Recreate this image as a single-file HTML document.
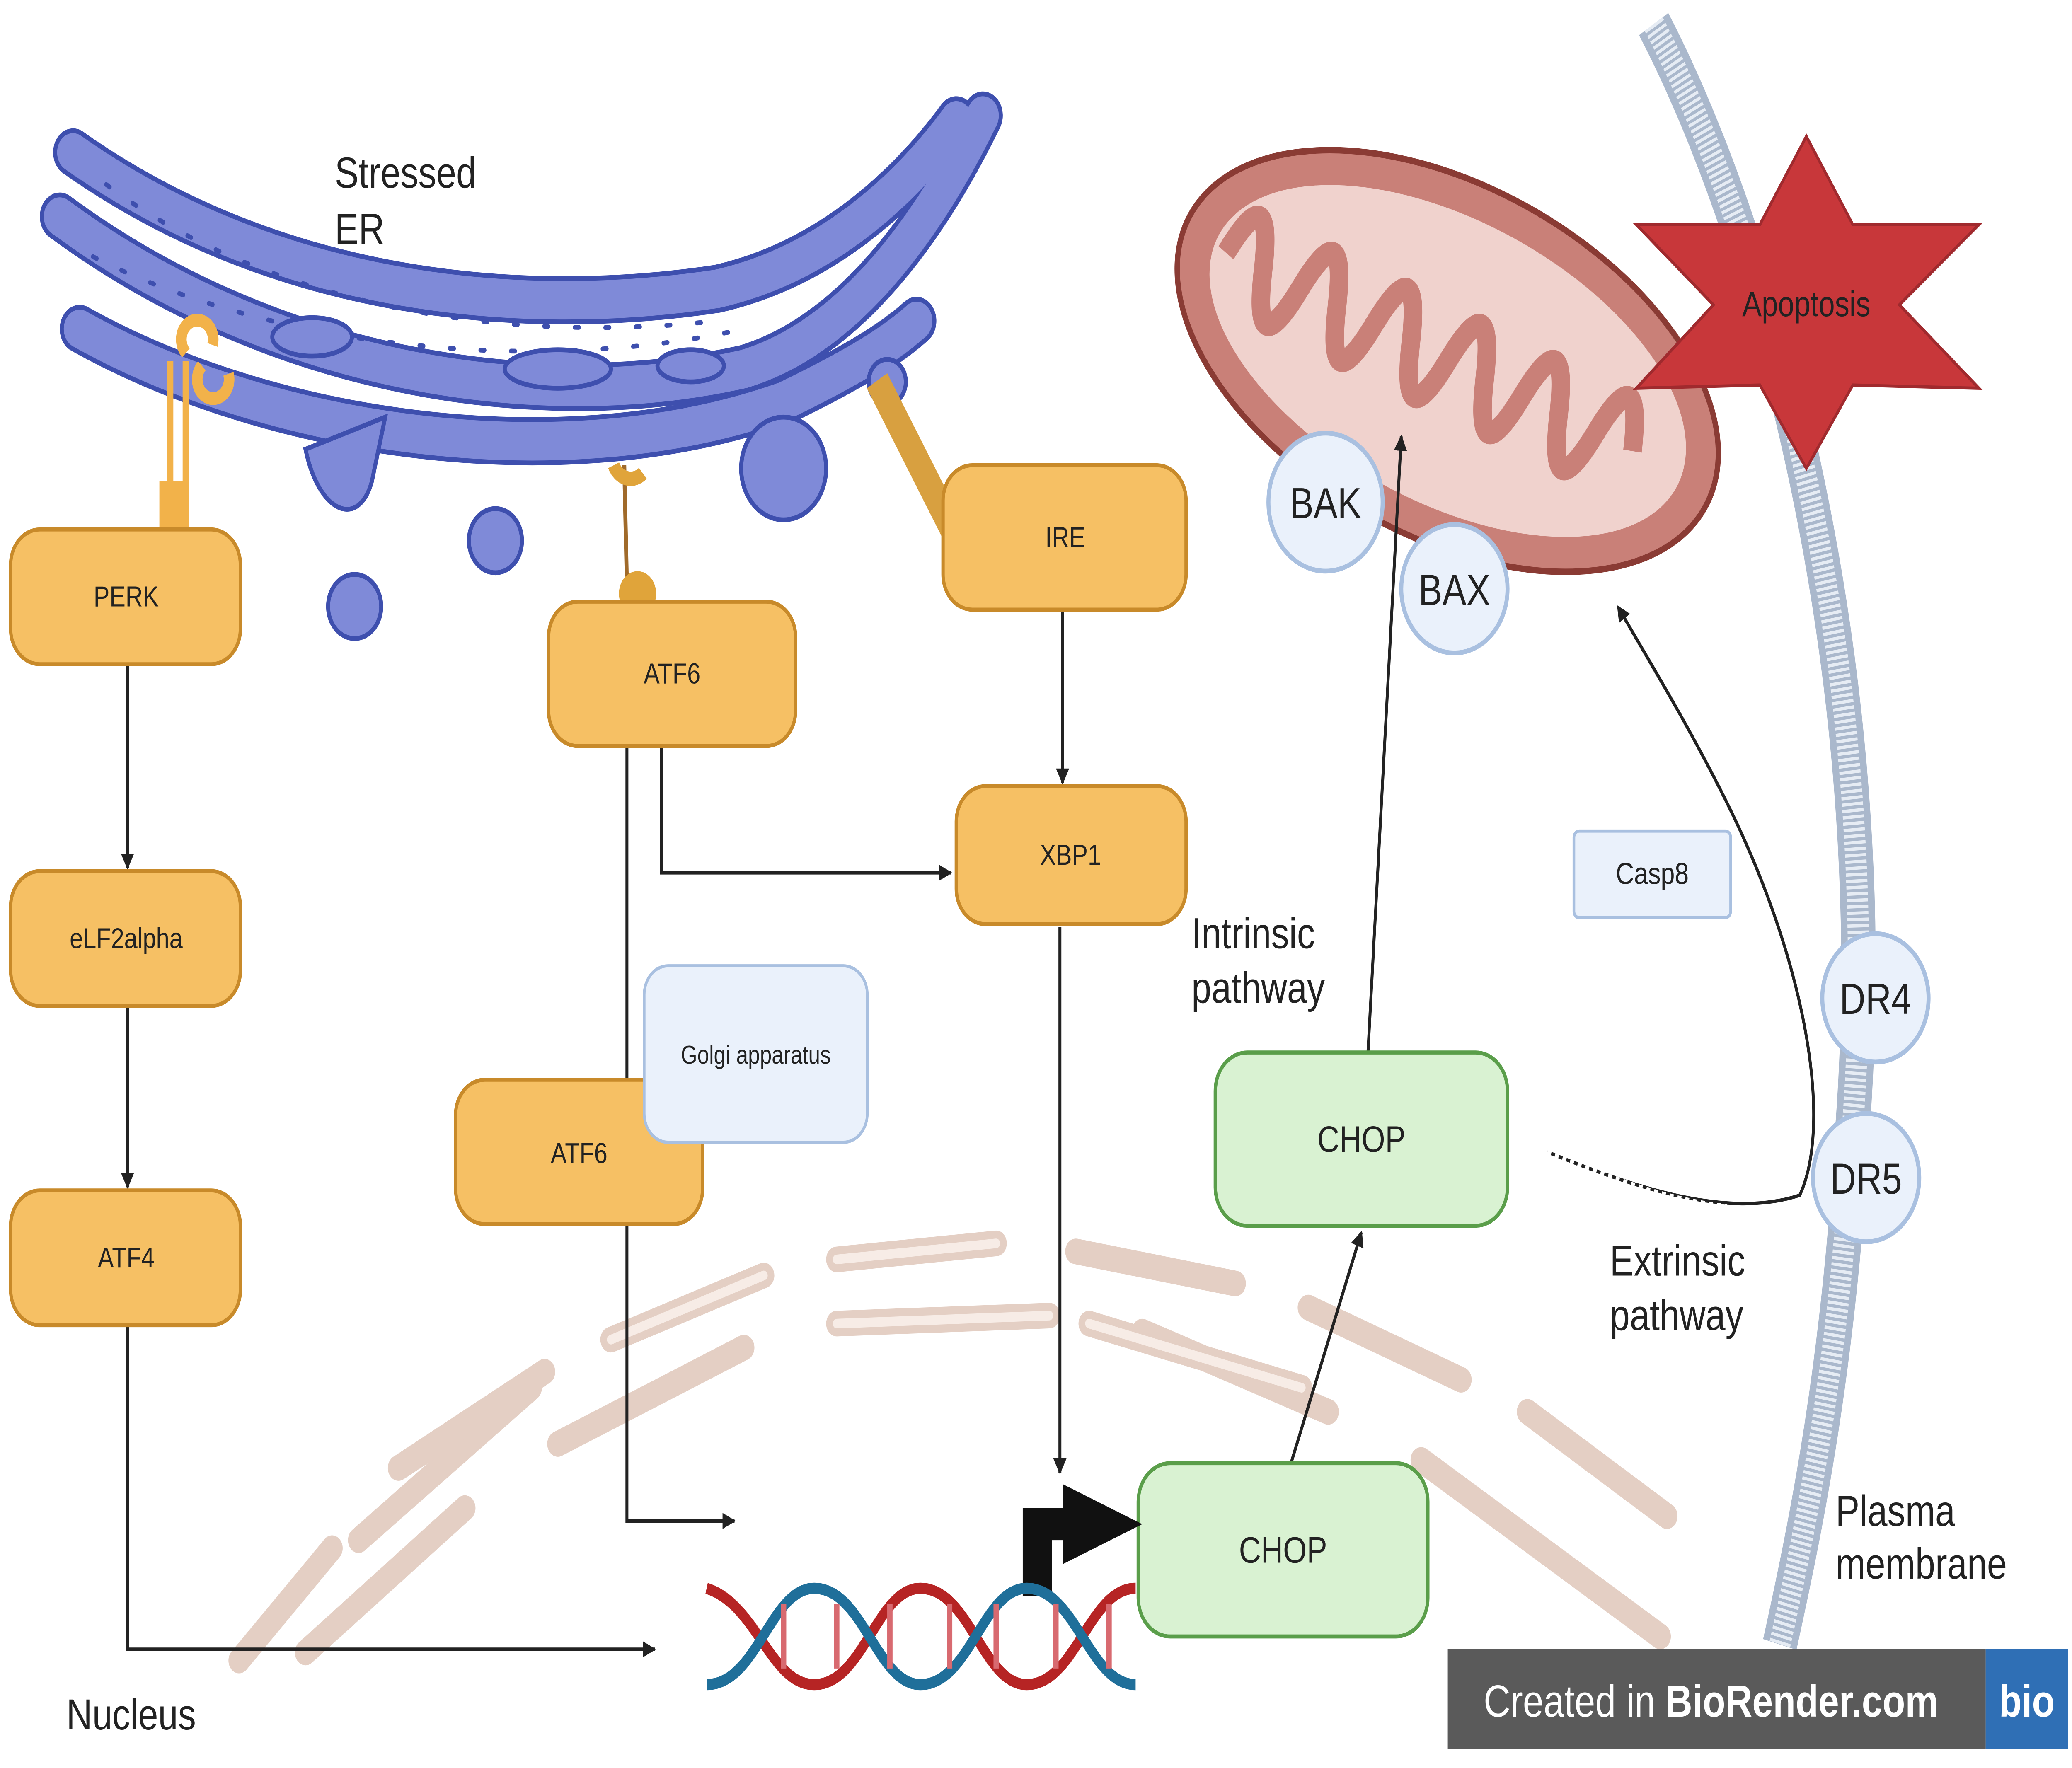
<!DOCTYPE html>
<html><head><meta charset="utf-8"><style>
html,body{margin:0;padding:0;background:#fff;width:100%;height:100%;overflow:hidden;}
svg{display:block;position:absolute;left:0;top:0;width:100vw;height:100vh;}
text{font-family:"Liberation Sans",sans-serif;}
</style></head><body>
<svg viewBox="0 0 1560 1102" preserveAspectRatio="none" xmlns="http://www.w3.org/2000/svg">
<defs>
<marker id="ah" markerWidth="10" markerHeight="10" refX="9" refY="5" orient="auto" markerUnits="userSpaceOnUse"><path d="M0,0 L10,5 L0,10 z" fill="#222"/></marker>
</defs>
<rect width="1560" height="1102" fill="#fff"/>

<path d="M1245,15 C1330,150 1420,420 1395,700 C1385,850 1360,950 1340,1025" fill="none" stroke="#aab8cc" stroke-width="26"/>
<path d="M1245,15 C1330,150 1420,420 1395,700 C1385,850 1360,950 1340,1025" fill="none" stroke="#e6ecf4" stroke-width="16" stroke-dasharray="2,2"/>

<g fill="none" stroke="#e4cfc4" stroke-width="16" stroke-linecap="round">
<path d="M180,1035 L250,965"/><path d="M230,1030 L350,940"/>
<path d="M270,960 L400,865"/><path d="M300,915 L410,855"/>
<path d="M420,900 L560,840"/><path d="M460,835 L575,795"/>
<path d="M630,785 L750,775"/><path d="M630,825 L790,820"/>
<path d="M810,780 L930,800"/><path d="M820,825 L980,865"/>
<path d="M860,830 L1000,880"/><path d="M985,815 L1100,860"/>
<path d="M1070,910 L1250,1020"/><path d="M1150,880 L1255,945"/>
</g>
<g fill="none" stroke="#f7ece6" stroke-width="6" stroke-linecap="round">
<path d="M630,785 L750,775"/><path d="M630,825 L790,820"/><path d="M460,835 L575,795"/><path d="M820,825 L980,865"/>
</g>

<g fill="none" stroke-linecap="round">
<g stroke="#3e4fae" stroke-width="30">
<path d="M45,135 C200,230 400,260 560,230 C640,210 700,140 740,72"/>
<path d="M55,95 C200,180 380,200 540,180 C620,165 680,120 720,75"/>
<path d="M60,205 C200,270 420,300 590,250 C640,230 670,215 690,200"/>
</g>
<g stroke="#7f8ad8" stroke-width="24">
<path d="M45,135 C200,230 400,260 560,230 C640,210 700,140 740,72"/>
<path d="M55,95 C200,180 380,200 540,180 C620,165 680,120 720,75"/>
<path d="M60,205 C200,270 420,300 590,250 C640,230 670,215 690,200"/>
</g>
<g stroke="#3e4fae" stroke-width="3" stroke-dasharray="3,20">
<path d="M70,160 C200,215 400,235 560,205"/>
<path d="M80,115 C200,190 380,215 540,200"/>
</g>
</g>
<g fill="#7f8ad8" stroke="#3e4fae" stroke-width="3">
<path d="M230,280 C240,320 270,330 280,300 L290,260 Z"/>
<circle cx="373" cy="337" r="20"/><circle cx="267" cy="378" r="20"/>
<circle cx="590" cy="292" r="32"/><circle cx="668" cy="238" r="14"/>
<ellipse cx="235" cy="210" rx="30" ry="12"/><ellipse cx="420" cy="230" rx="40" ry="12"/>
<ellipse cx="520" cy="228" rx="25" ry="10"/>
</g>

<path d="M128,225 L128,300 M140,225 L140,300" stroke="#f2b24a" stroke-width="5"/>
<rect x="120" y="300" width="22" height="34" fill="#f2b24a"/>
<path d="M140,220 a12,12 0 1,1 20,-5 M152,228 a12,12 0 1,0 20,5" stroke="#f2b24a" stroke-width="8" fill="none"/>
<path d="M470,290 L472,365" stroke="#a06a2a" stroke-width="3"/>
<circle cx="480" cy="370" r="14" fill="#e0a43a"/>
<path d="M462,290 a14,14 0 0,0 22,5" stroke="#e0a43a" stroke-width="9" fill="none"/>
<path d="M665,245 L712,322" stroke="#d8a040" stroke-width="18" stroke-linecap="square"/>

<text x="252" y="117" font-size="27" fill="#222">Stressed</text>
<text x="252" y="152" font-size="27" fill="#222">ER</text>

<g transform="rotate(22 1090 225)">
<ellipse cx="1090" cy="225" rx="215" ry="112" fill="#c98078" stroke="#8a3b34" stroke-width="4"/>
<ellipse cx="1090" cy="225" rx="190" ry="90" fill="#f0d2cd"/>
<path d="M910,225 q15,-60 30,0 t30,0 t30,0 t30,0 t30,0 t30,0 t30,0 t30,0 t30,0 t30,0 t30,0" fill="none" stroke="#c98078" stroke-width="14"/>
</g>

<polygon points="1360,85 1395,140 1490,140 1430,190 1490,242 1395,240 1360,292 1325,240 1232,242 1290,190 1232,140 1325,140" fill="#c8373a" stroke="#a02a2e" stroke-width="2"/>
<text x="1360" y="197" font-size="22" fill="#222" text-anchor="middle">Apoptosis</text>

<g fill="#eaf1fb" stroke="#a9c0e0" stroke-width="3">
<circle cx="998" cy="313" r="43"/><circle cx="1095" cy="367" r="40"/>
<circle cx="1412" cy="622" r="40"/><circle cx="1405" cy="734" r="40"/>
</g>
<g font-size="27" fill="#222" text-anchor="middle">
<text x="998" y="323">BAK</text><text x="1095" y="377">BAX</text>
<text x="1412" y="632">DR4</text><text x="1405" y="744">DR5</text>
</g>
<rect x="1185" y="518" width="118" height="54" rx="4" fill="#eaf1fb" stroke="#a9c0e0" stroke-width="2"/>
<text x="1244" y="551" font-size="19" fill="#222" text-anchor="middle">Casp8</text>

<g fill="none" stroke="#222" stroke-width="2.2">
<path d="M96,414 L96,541" marker-end="url(#ah)"/>
<path d="M96,627 L96,740" marker-end="url(#ah)"/>
<path d="M96,826 L96,1028 L493,1028" marker-end="url(#ah)"/>
<path d="M472,465 L472,948 L553,948" marker-end="url(#ah)"/>
<path d="M498,465 L498,544 L716,544" marker-end="url(#ah)"/>
<path d="M800,380 L800,488" marker-end="url(#ah)"/>
<path d="M798,578 L798,918" marker-end="url(#ah)"/>
<path d="M972,912 L1025,768" marker-end="url(#ah)"/>
<path d="M1030,655 L1055,272" marker-end="url(#ah)"/>
<path d="M1165,718 C1230,740 1300,760 1355,745 C1380,700 1360,600 1300,500 C1270,450 1240,410 1218,378" marker-end="url(#ah)"/>
</g>
<path d="M1165,718 C1230,740 1260,748 1300,752" fill="none" stroke="#fff" stroke-width="3" stroke-dasharray="3,3"/>

<g fill="#f6c064" stroke="#c88a2a" stroke-width="2.5">
<rect x="8" y="330" width="173" height="84" rx="22"/>
<rect x="8" y="543" width="173" height="84" rx="22"/>
<rect x="8" y="742" width="173" height="84" rx="22"/>
<rect x="413" y="375" width="186" height="90" rx="22"/>
<rect x="710" y="290" width="183" height="90" rx="22"/>
<rect x="720" y="490" width="173" height="86" rx="22"/>
<rect x="343" y="673" width="186" height="90" rx="22"/>
</g>
<rect x="485" y="602" width="168" height="110" rx="18" fill="#eaf1fb" stroke="#a9c0e0" stroke-width="2"/>
<g font-size="18" fill="#222" text-anchor="middle">
<text x="95" y="378">PERK</text><text x="95" y="591">eLF2alpha</text><text x="95" y="790">ATF4</text>
<text x="506" y="426">ATF6</text><text x="802" y="341">IRE</text><text x="806" y="539">XBP1</text>
<text x="436" y="725">ATF6</text><text x="569" y="663" font-size="16">Golgi apparatus</text>
</g>
<g fill="#d9f2d2" stroke="#5a9e4a" stroke-width="2.5">
<rect x="915" y="656" width="220" height="108" rx="24"/>
<rect x="857" y="912" width="218" height="108" rx="24"/>
</g>
<text x="1025" y="718" font-size="23" fill="#222" text-anchor="middle">CHOP</text>
<text x="966" y="974" font-size="23" fill="#222" text-anchor="middle">CHOP</text>

<path d="M770,940 L800,940 L800,925 L860,950 L800,975 L800,960 L792,960 L792,995 L770,995 Z" fill="#111"/>

<g fill="none" stroke-width="7">
<path d="M532,990 C570,1000 580,1050 613,1050 C650,1050 660,990 693,990 C730,990 740,1050 773,1050 C810,1050 820,990 855,990" stroke="#b62424"/>
<path d="M532,1050 C570,1050 580,990 613,990 C650,990 660,1050 693,1050 C730,1050 740,990 773,990 C810,990 820,1050 855,1050" stroke="#1f6f9a"/>
</g>
<g stroke="#d86a70" stroke-width="4">
<path d="M590,1000 V1040 M630,1000 V1040 M670,1000 V1040 M715,1000 V1040 M750,1000 V1040 M795,1000 V1040 M835,1000 V1040"/>
</g>

<g font-size="27" fill="#222">
<text x="897" y="591">Intrinsic</text><text x="897" y="625">pathway</text>
<text x="1212" y="795">Extrinsic</text><text x="1212" y="829">pathway</text>
<text x="1382" y="951">Plasma</text><text x="1382" y="984">membrane</text>
<text x="50" y="1078">Nucleus</text>
</g>

<rect x="1090" y="1028" width="405" height="62" fill="#5a5a5a"/>
<rect x="1495" y="1028" width="62" height="62" fill="#2f6fb5"/>
<text x="1117" y="1070" font-size="28" fill="#fff">Created in <tspan font-weight="bold">BioRender.com</tspan></text>
<text x="1526" y="1070" font-size="28" fill="#fff" font-weight="bold" text-anchor="middle">bio</text>
</svg>
</body></html>
